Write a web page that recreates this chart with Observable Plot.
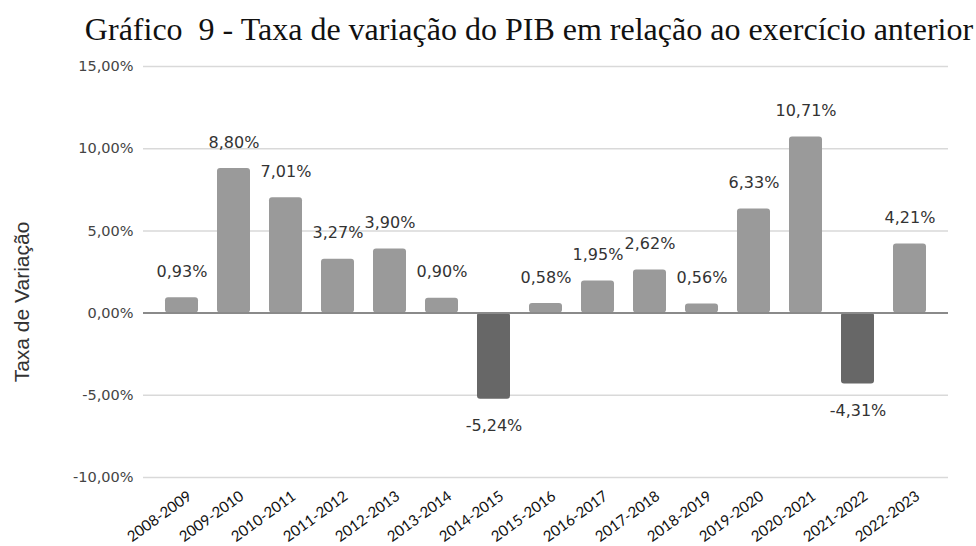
<!DOCTYPE html>
<html>
<head>
<meta charset="utf-8">
<script src="https://cdn.jsdelivr.net/npm/d3@7"></script>
<script src="https://cdn.jsdelivr.net/npm/@observablehq/plot@0.6"></script>
<style>
  html, body { margin: 0; padding: 0; background: #fff; }
  #title { height: 50px; width: 976px; position: relative; overflow: visible; }
  #title span { position: absolute; left: 529px; top: 11px; transform: translateX(-50%); white-space: nowrap;
    font-family: "Liberation Serif", "Times New Roman", serif; font-size: 32px; color: #111; line-height: 36px; }
</style>
</head>
<body>
<div id="title"><span>Gráfico&nbsp; 9 - Taxa de variação do PIB em relação ao exercício anterior</span></div>
<div id="chart"></div>
<script>
const periods = ["2008-2009","2009-2010","2010-2011","2011-2012","2012-2013","2013-2014","2014-2015","2015-2016","2016-2017","2017-2018","2018-2019","2019-2020","2020-2021","2021-2022","2022-2023"];
const values = [0.93, 8.80, 7.01, 3.27, 3.90, 0.90, -5.24, 0.58, 1.95, 2.62, 0.56, 6.33, 10.71, -4.31, 4.21];
const yTicks = [-10, -5, 0, 5, 10, 15];
const yTitle = "Taxa de Variação";

const data = periods.map((p, i) => ({period: p, value: values[i]}));
const fmt = v => v.toFixed(2).replace(".", ",") + "%";

const chart = Plot.plot({
  width: 976,
  height: 496,
  marginTop: 16,
  marginBottom: 69,
  marginLeft: 143,
  marginRight: 28,
  style: {background: "#fff"},
  x: {domain: periods, padding: 0.37, label: null},
  y: {domain: [-10, 15], label: null},
  marks: [
    Plot.gridY(yTicks, {stroke: "#d9d9d9", strokeOpacity: 1, strokeWidth: 1.5}),
    Plot.axisY(yTicks, {tickSize: 0, tickPadding: 10, tickFormat: fmt, fontSize: 14.5, fill: "#444",
      fontFamily: "DejaVu Sans", label: null}),
    Plot.axisX({tickSize: 0, tickPadding: 17, tickRotate: -36, fontSize: 15, fill: "#111",
      fontFamily: "Lato", label: null, dx: 8}),
    Plot.barY(data, {x: "period", y: "value", fill: d => d.value < 0 ? "#676767" : "#9a9a9a", rx: 3}),
    Plot.ruleY([0], {stroke: "#8a8a8a", strokeWidth: 2}),
    Plot.text(data.filter(d => d.value >= 0), {x: "period", y: "value", text: d => fmt(d.value), dy: -26,
      fontSize: 16, fontFamily: "DejaVu Sans", fill: "#333", lineAnchor: "middle"}),
    Plot.text(data.filter(d => d.value < 0), {x: "period", y: "value", text: d => fmt(d.value), dy: 27,
      fontSize: 16, fontFamily: "DejaVu Sans", fill: "#333", lineAnchor: "middle"}),
    Plot.text([yTitle], {frameAnchor: "left", textAnchor: "middle", dx: -121, dy: 30, rotate: -90, fontSize: 21,
      fontFamily: "Liberation Sans", fill: "#333"})
  ]
});
document.getElementById("chart").appendChild(chart);
</script>
</body>
</html>
